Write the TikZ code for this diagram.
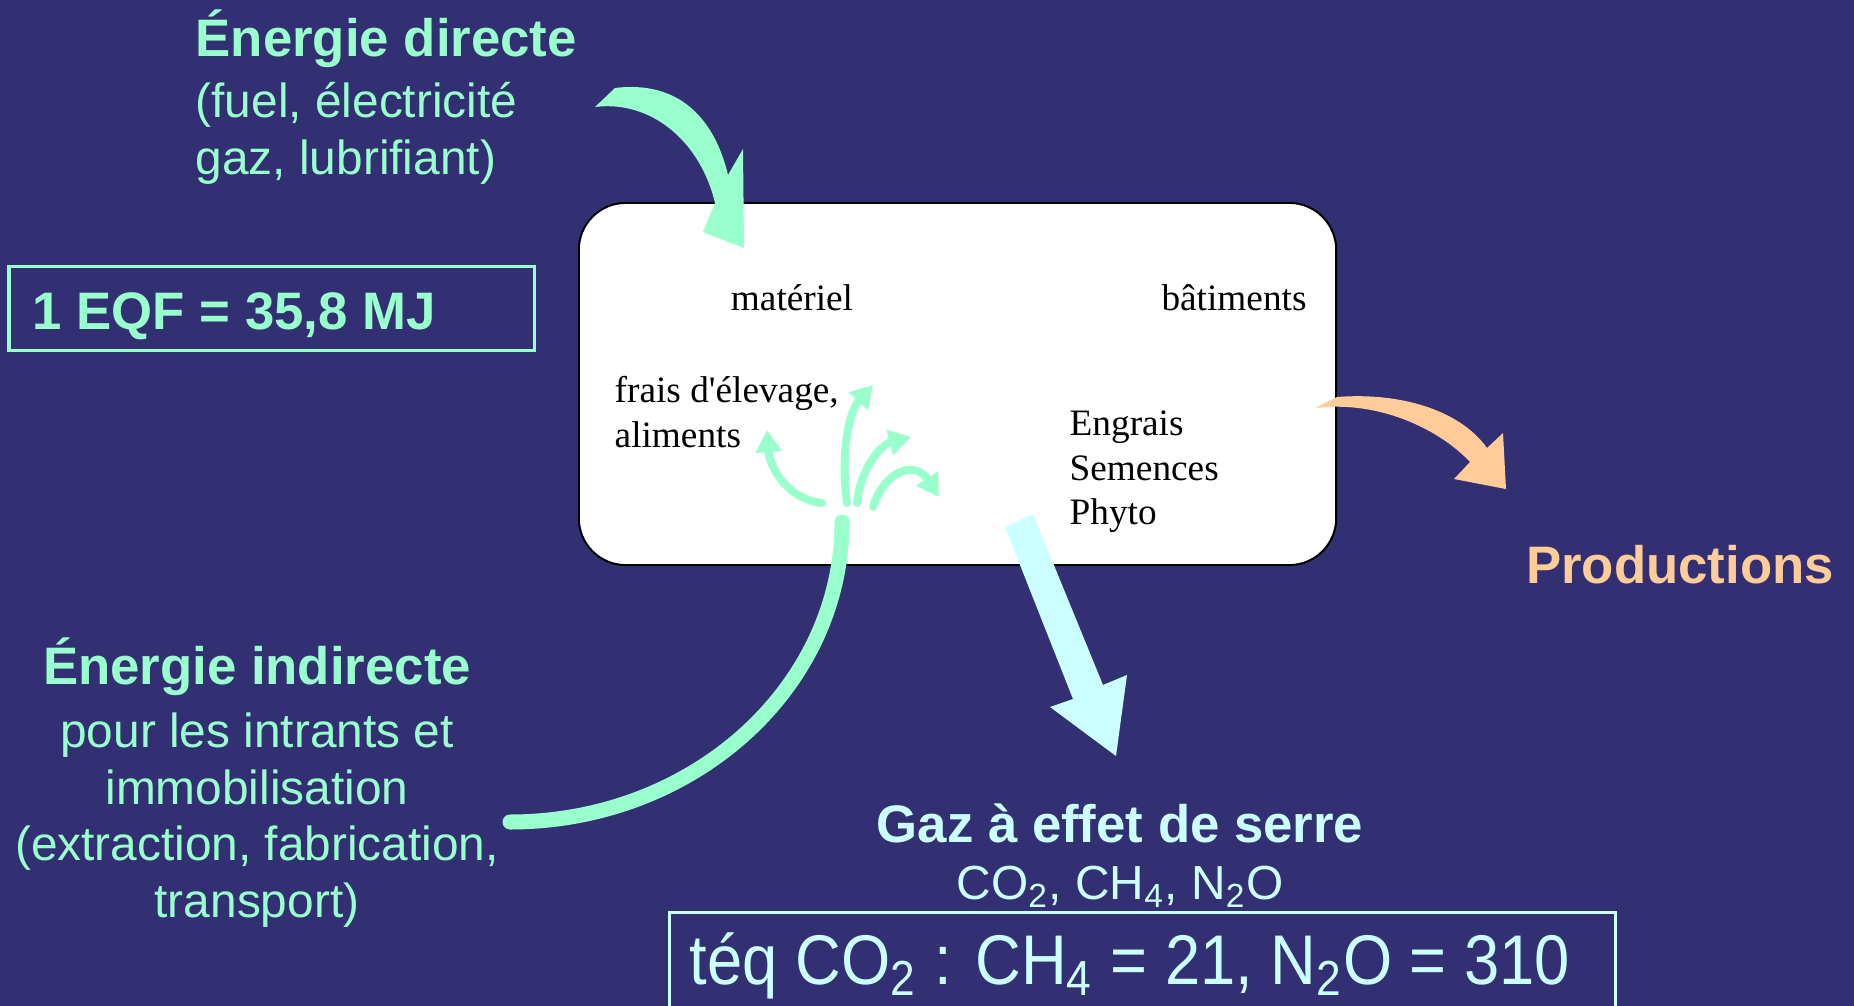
\documentclass[tikz,border=0pt]{standalone}
\usepackage{fontspec}
\setmainfont{Liberation Serif}[Ligatures=TeXOff]
\setsansfont{Liberation Sans}
\newfontfamily\narrowsans{Liberation Sans}[FakeStretch=0.9]
\usetikzlibrary{positioning, arrows.meta}
\definecolor{my_bg}{RGB}{50, 48, 114}
\definecolor{my_green}{RGB}{153, 255, 204}
\definecolor{my_cyan}{RGB}{204, 255, 255}
\definecolor{my_peach}{RGB}{255, 204, 153}
\tikzset {
  title/.style = {font=\sffamily\bfseries\fontsize{15}{18}\selectfont, inner sep=0pt},
  sub/.style = {font=\sffamily\fontsize{13.6}{16.2}\selectfont, inner sep=0pt},
  item/.style = {font=\fontsize{10.6}{12.7}\selectfont, inner sep=0pt, text=black},
  frame/.style = {draw, line width=0.03cm},
  mainbox/.style = {draw=black, line width=0.02cm, fill=white, rounded corners=0.47cm, minimum width=7.57cm, minimum height=3.62cm},
  twig/.style = {my_green, line width=0.08cm, line cap=round, -{Triangle[length=0.22cm, width=0.25cm]}},
  flow/.style = {my_green, line width=0.15cm, line cap=round}
}

\begin{document}
\begin{tikzpicture}[x=0.01cm, y=-0.01cm]

    \fill[my_bg] (0,0) rectangle (1854,1006);
    \clip (0,0) rectangle (1854,1006);

    % central box
    \node[mainbox] (box) at (957.5,384) {};
    \node[item] (materiel) at (792,298) {matériel};
    \node[item] (batiments) at (1234,298) {bâtiments};
    \node[item, anchor=west, align=left] (frais) at (614,412) {frais d'élevage,\\aliments};
    \node[item, anchor=west, align=left] (intrants) at (1069,472) {Engrais\\Semences\\Phyto};

    % direct energy
    \node[title, text=my_green, anchor=west] (direct) at (195,39) {Énergie directe};
    \node[sub, text=my_green, below=0.13cm of direct.south west, anchor=north west, align=left] (directlist) {(fuel, électricité\\gaz, lubrifiant)};
    \draw[my_green, frame] (9,266) rectangle (534,350);
    \node[title, text=my_green, anchor=west] (eqf) at (32,316) {1 EQF = 35,8 MJ};
    \fill[my_green] (595,107) -- (615,88) .. controls (680,80) and (715,120) .. (728,175)
      -- (743,149) -- (744,248) -- (703,232) -- (715,203)
      .. controls (700,140) and (650,100) .. (595,107) -- cycle;

    % indirect energy
    \node[title, text=my_green] (indirect) at (257,667) {Énergie indirecte};
    \node[sub, text=my_green, below=0.15cm of indirect, align=center] (indirectlist) {pour les intrants et\\immobilisation\\(extraction, fabrication,\\transport)};
    \draw[flow] (510,822) .. controls (693,822) and (842,688) .. (842,522);
    \draw[twig] (822,503) .. controls (790,500) and (770,470) .. (767,430);
    \draw[twig] (847,503) .. controls (840,450) and (850,410) .. (873,385);
    \draw[twig] (857,503) .. controls (860,470) and (880,445) .. (911,437);
    \draw[twig] (873,507) .. controls (885,470) and (915,460) .. (939,497);

    % productions
    \fill[my_peach] (1315,408) -- (1337,397) .. controls (1400,392) and (1460,410) .. (1487,448)
      -- (1503,433) -- (1506,489) -- (1454,479) -- (1470,462)
      .. controls (1440,430) and (1380,400) .. (1315,408) -- cycle;
    \node[title, text=my_peach] (productions) at (1680,565) {Productions};

    % greenhouse gases
    \fill[my_cyan] (1005,527) -- (1033,514) -- (1103,685) -- (1127,675) -- (1116,756) -- (1050,707) -- (1073,699) -- cycle;
    \node[title, text=my_cyan] (gaz) at (1120,823) {Gaz à effet de serre};
    \node[sub, text=my_cyan] (gazlist) at (1120,887) {CO\textsubscript{2}, CH\textsubscript{4}, N\textsubscript{2}O};
    \draw[my_cyan, frame] (669,912) rectangle (1615,1040);
    \node[inner sep=0pt, text=my_cyan, font=\narrowsans\fontsize{20}{24}\selectfont] (teq) at (1130,966) {téq CO\textsubscript{2} : CH\textsubscript{4} = 21, N\textsubscript{2}O = 310};

\end{tikzpicture}
\end{document}
